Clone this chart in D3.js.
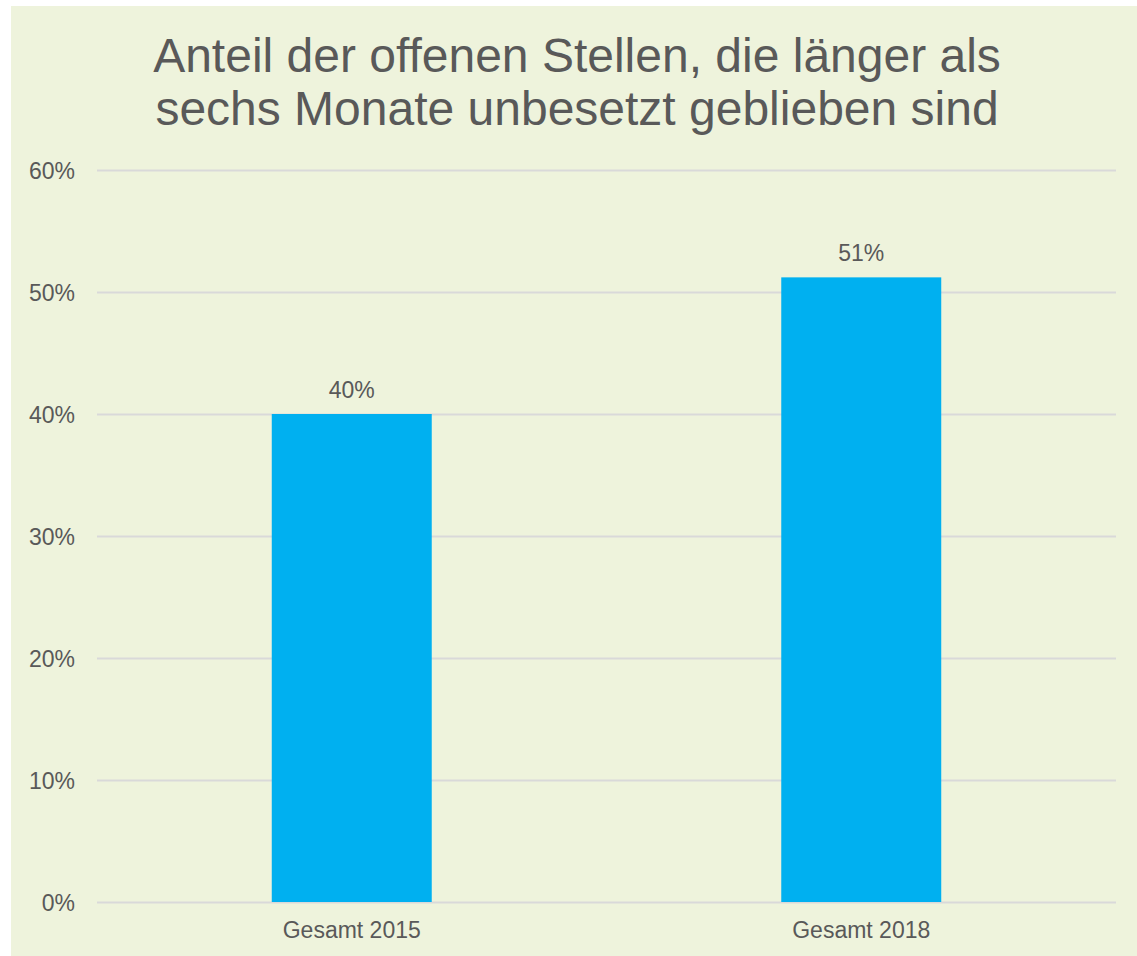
<!DOCTYPE html>
<html>
<head>
<meta charset="utf-8">
<script src="https://cdn.jsdelivr.net/npm/d3@7"></script>
<style>
  body { margin: 0; background: #fff; }
  text { font-family: "Liberation Sans", Arial, sans-serif; fill: #595959; }
</style>
</head>
<body>
<svg id="svg" width="1137" height="956"></svg>
<script>
var categories = ["Gesamt 2015", "Gesamt 2018"];
var values = [0.40, 0.512];
var yTicks = [0, 0.1, 0.2, 0.3, 0.4, 0.5, 0.6];
var titleLines = ["Anteil der offenen Stellen, die länger als", "sechs Monate unbesetzt geblieben sind"];

var svg = d3.select("#svg");
var plotLeft = 97, plotRight = 1116, plotTop = 170, plotBottom = 902;

// background panel
svg.append("rect")
  .attr("x", 11).attr("y", 6)
  .attr("width", 1137 - 11).attr("height", 956 - 6)
  .attr("fill", "#eef3dc");

var x = d3.scaleBand().domain(categories).range([plotLeft, plotRight]).padding(0);
var y = d3.scaleLinear().domain([0, 0.6]).range([plotBottom, plotTop]);
var pct = d3.format(".0%");

// y axis + gridlines
var yAxis = svg.append("g")
  .attr("transform", "translate(" + plotLeft + ",0)")
  .call(d3.axisLeft(y).tickValues(yTicks).tickFormat(pct).tickSize(-(plotRight - plotLeft)).tickPadding(22));
yAxis.select(".domain").remove();
yAxis.selectAll(".tick line").attr("stroke", "#d9d9d9").attr("stroke-width", 2);
yAxis.selectAll(".tick text")
  .attr("font-size", 23).attr("font-family", null).attr("fill", "#595959")
  .attr("dy", "0.35em");

// x labels
var xAxis = svg.append("g")
  .attr("transform", "translate(0," + plotBottom + ")")
  .call(d3.axisBottom(x).tickSize(0).tickPadding(0));
xAxis.select(".domain").remove();
xAxis.selectAll(".tick text")
  .attr("font-size", 23).attr("font-family", null).attr("fill", "#595959")
  .attr("dy", 36);

// bars
var bw = x.bandwidth() * 0.314;
var data = categories.map(function(c, i) { return { cat: c, val: values[i] }; });
svg.selectAll("rect.bar").data(data).enter().append("rect")
  .attr("class", "bar")
  .attr("x", function(d) { return x(d.cat) + x.bandwidth() / 2 - bw / 2; })
  .attr("y", function(d) { return y(d.val); })
  .attr("width", bw)
  .attr("height", function(d) { return plotBottom - y(d.val); })
  .attr("fill", "#00b0f0");

// value labels
svg.selectAll("text.lbl").data(data).enter().append("text")
  .attr("class", "lbl")
  .attr("x", function(d) { return x(d.cat) + x.bandwidth() / 2; })
  .attr("y", function(d) { return y(d.val) - 16; })
  .attr("text-anchor", "middle")
  .attr("font-size", 23)
  .text(function(d) { return pct(d.val); });

// title
svg.selectAll("text.title").data(titleLines).enter().append("text")
  .attr("class", "title")
  .attr("x", 577)
  .attr("y", function(d, i) { return 72 + i * 53; })
  .attr("text-anchor", "middle")
  .attr("font-size", 48)
  .text(function(d) { return d; });
</script>
</body>
</html>
